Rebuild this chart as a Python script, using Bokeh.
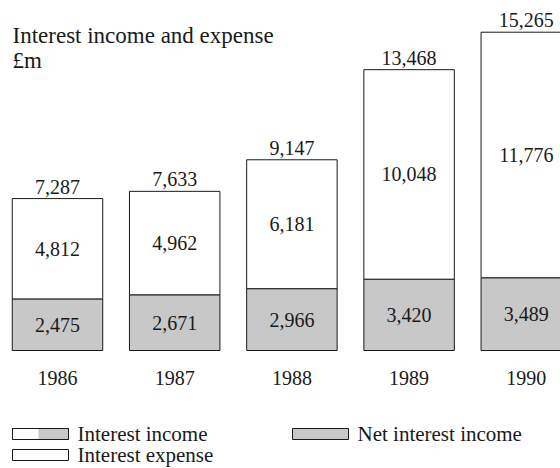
from bokeh.plotting import figure
from bokeh.models import Range1d, Label, BoxAnnotation, ColumnDataSource
from bokeh.core.properties import value
from bokeh.embed import file_html
from bokeh.resources import INLINE

# ---- data ----
years = ["1986", "1987", "1988", "1989", "1990"]
net_interest_income = [2475, 2671, 2966, 3420, 3489]
interest_expense = [4812, 4962, 6181, 10048, 11776]
interest_income = [7287, 7633, 9147, 13468, 15265]

title_text = "Interest income and expense"
unit_text = "£m"

FONT = "Liberation Serif"
GRAY = "#c8c8c8"
INK = "#1a1a1a"

idx = list(range(len(years)))
src = ColumnDataSource(dict(
    x=idx,
    year=years,
    net=net_interest_income,
    exp=interest_expense,
    total=interest_income,
    net_lbl=[f"{v:,}" for v in net_interest_income],
    exp_lbl=[f"{v:,}" for v in interest_expense],
    tot_lbl=[f"{v:,}" for v in interest_income],
    net_mid=[n / 2 for n in net_interest_income],
    exp_mid=[(n + t) / 2 for n, t in zip(net_interest_income, interest_income)],
    zero=[0] * len(years),
))

W, H = 560, 468
p = figure(width=W, height=H, output_backend="svg", toolbar_location=None,
           x_range=Range1d(-0.4863, 4.2918), y_range=Range1d(-5659, 16786),
           min_border=0, min_border_left=0, min_border_right=0,
           min_border_top=0, min_border_bottom=0)
p.axis.visible = False
p.grid.visible = False
p.outline_line_color = None
p.background_fill_color = "white"
p.border_fill_color = "white"

BW = 0.772
p.vbar(x="x", bottom=0, top="net", width=BW, source=src,
       fill_color=GRAY, line_color=INK, line_width=1)
p.vbar(x="x", bottom="net", top="total", width=BW, source=src,
       fill_color="white", line_color=INK, line_width=1)

common = dict(source=src, text_font=value(FONT), text_color=INK,
              text_align="center", text_baseline="middle")
p.text(x="x", y="total", text="tot_lbl", y_offset=-12, text_font_size="20px", **common)
p.text(x="x", y="exp_mid", text="exp_lbl", text_font_size="20px", **common)
p.text(x="x", y="net_mid", text="net_lbl", text_font_size="20px", **common)
p.text(x="x", y="zero", text="year", y_offset=27, text_font_size="20px", **common)

# ---- title ----
p.add_layout(Label(x=12, y=H - 35, x_units="screen", y_units="screen", text=title_text,
                   text_font=FONT, text_font_size="23px", text_color=INK,
                   text_baseline="alphabetic"))
p.add_layout(Label(x=12, y=H - 60, x_units="screen", y_units="screen", text=unit_text,
                   text_font=FONT, text_font_size="23px", text_color=INK,
                   text_baseline="alphabetic"))

# ---- legend ----
def box(l, r, cy, color):
    p.add_layout(BoxAnnotation(left=l, right=r, bottom=H - cy - 5.5, top=H - cy + 5.5,
                               left_units="screen", right_units="screen",
                               top_units="screen", bottom_units="screen",
                               fill_color=color, fill_alpha=1 if color else 0,
                               line_color=INK, line_width=1, line_alpha=1))

def leg_text(x, cy, t):
    p.add_layout(Label(x=x, y=H - cy, x_units="screen", y_units="screen", text=t,
                       text_font=FONT, text_font_size="21px", text_color=INK,
                       text_baseline="middle"))

r1, r2 = 433.5, 454.5
box(12, 68, r1, "white")
p.add_layout(BoxAnnotation(left=38, right=68, bottom=H - r1 - 5.5, top=H - r1 + 5.5,
                           left_units="screen", right_units="screen",
                           top_units="screen", bottom_units="screen",
                           fill_color=GRAY, fill_alpha=1, line_color=None))
box(12, 68, r1, None)
leg_text(77, r1, "Interest income")
box(292, 348, r1, GRAY)
leg_text(357, r1, "Net interest income")
box(12, 68, r2, "white")
leg_text(77, r2, "Interest expense")

open("out.html", "w").write(file_html(p, INLINE))
